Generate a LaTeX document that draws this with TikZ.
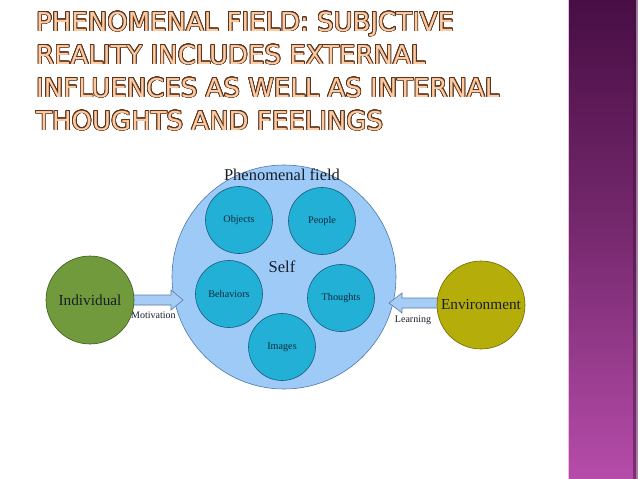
\documentclass[tikz,border=0pt]{standalone}
\usepackage{fontspec}
\setmainfont{Liberation Serif}
\newfontfamily\titlefont{DejaVu Sans}
\usepackage{contour}
\contourlength{0.75pt}
\contournumber{24}
\usetikzlibrary{calc}
\definecolor{fieldblue}{RGB}{158,202,248}
\definecolor{fieldline}{RGB}{80,120,170}
\definecolor{itemblue}{RGB}{35,176,214}
\definecolor{itemline}{RGB}{25,90,120}
\definecolor{indgreen}{RGB}{112,154,60}
\definecolor{indline}{RGB}{60,90,30}
\definecolor{envyellow}{RGB}{181,174,10}
\definecolor{envline}{RGB}{110,105,0}
\definecolor{arrowblue}{RGB}{165,205,245}
\definecolor{arrowline}{RGB}{90,125,165}
\definecolor{txtdark}{RGB}{25,30,40}
\definecolor{itemtxt}{RGB}{15,40,60}
\definecolor{titlefill}{RGB}{250,204,165}
\definecolor{titleedge}{RGB}{95,50,25}
\definecolor{barTop}{RGB}{72,14,68}
\definecolor{barMid}{RGB}{120,42,112}
\definecolor{barBot}{RGB}{182,76,170}
\definecolor{barEdge}{RGB}{235,190,228}
\pgfdeclarelayer{front}
\pgfsetlayers{main,front}
\tikzset{
  titleline/.style={anchor=base west, inner sep=0, text=titlefill,
    font=\titlefont\fontsize{26}{30}\selectfont},
  field/.style={circle, draw=fieldline, fill=fieldblue, line width=0.6pt,
    minimum size=224pt, inner sep=0},
  item/.style={circle, draw=itemline, fill=itemblue, line width=0.6pt,
    minimum size=67pt, inner sep=0, text=itemtxt, font=\fontsize{10.2}{12}\selectfont},
  outer/.style={circle, line width=0.6pt, minimum size=88pt, inner sep=0,
    text=txtdark, font=\fontsize{15.3}{18}\selectfont},
  blockarrow/.style={draw=arrowline, fill=arrowblue, line width=0.6pt, line join=miter},
  lbl/.style={inner sep=0, text=txtdark, font=\fontsize{10}{12}\selectfont},
  biglbl/.style={inner sep=0, text=txtdark, font=\fontsize{16.5}{19}\selectfont}
}
\begin{document}
\begin{tikzpicture}[x=1pt,y=-1pt]
\useasboundingbox (0,0) rectangle (638,479);
\fill[white] (0,0) rectangle (638,479);
% side bar
\shade[top color=barTop, bottom color=barBot, middle color=barMid] (568,0) rectangle (636,479);
\fill[barTop, opacity=0.5] (633,0) rectangle (638,479);
\draw[barEdge, line width=1pt] (568.5,0) -- (568.5,479);
% title
\node[titleline] (t1) at (36,31) {\contour{titleedge}{PHENOMENAL FIELD: SUBJCTIVE}};
\node[titleline] (t2) at (36,64) {\contour{titleedge}{REALITY INCLUDES EXTERNAL}};
\node[titleline] (t3) at (36,97) {\contour{titleedge}{INFLUENCES AS WELL AS INTERNAL}};
\node[titleline] (t4) at (36,130) {\contour{titleedge}{THOUGHTS AND FEELINGS}};
% phenomenal field
\node[field] (pf) at (284,277) {};
\node[biglbl] (pflbl) at (282,175) {Phenomenal field};
\node[biglbl] (self) at (282,267) {Self};
\node[item] (obj) at (239,220) {Objects};
\node[item] (peo) at (322,221) {People};
\node[item] (beh) at (229,294) {Behaviors};
\node[item] (tho) at (341,298) {Thoughts};
\node[item] (img) at (282,347) {Images};
% outer circles
\begin{pgfonlayer}{front}
\node[outer, draw=indline, fill=indgreen] (ind) at (90,300) {Individual};
\node[outer, draw=envline, fill=envyellow] (env) at (481,305) {Environment};
\end{pgfonlayer}
% block arrows
\coordinate (mTip) at (183,300);
\draw[blockarrow] ($(ind.center)+(0,-5)$) -- ($(mTip)+(-12,-5)$) -- ($(mTip)+(-12,-10)$)
  -- (mTip) -- ($(mTip)+(-12,10)$) -- ($(mTip)+(-12,5)$) -- ($(ind.center)+(0,5)$) -- cycle;
\coordinate (lTip) at (389,303);
\draw[blockarrow] ($(env.center|-lTip)+(0,-5)$) -- ($(lTip)+(13,-5)$) -- ($(lTip)+(13,-10)$)
  -- (lTip) -- ($(lTip)+(13,10)$) -- ($(lTip)+(13,5)$) -- ($(env.center|-lTip)+(0,5)$) -- cycle;
\node[lbl, anchor=west] (mot) at (131,315) {Motivation};
\node[lbl] (lea) at (413,320) {Learning};
\end{tikzpicture}
\end{document}
